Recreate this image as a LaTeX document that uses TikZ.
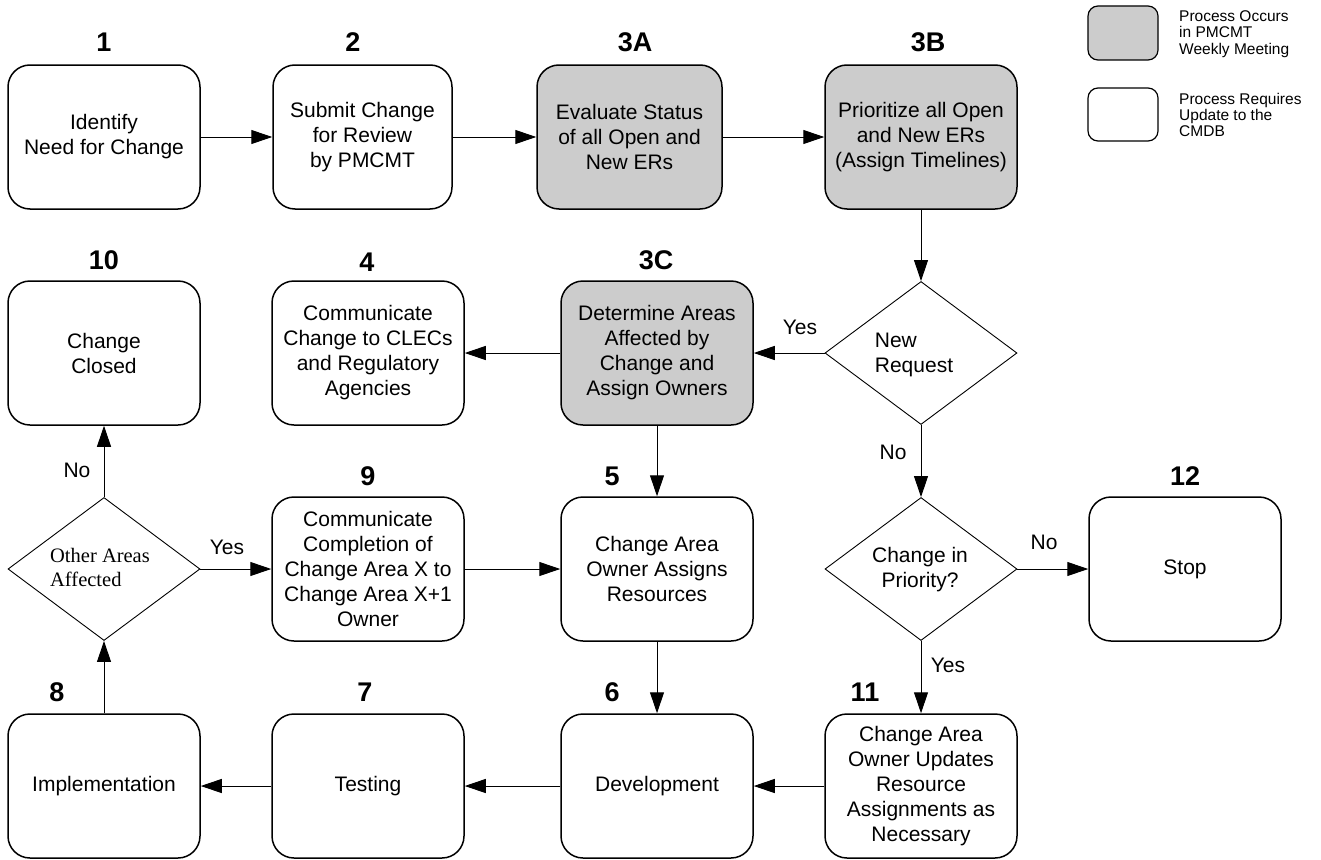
\documentclass[tikz,border=0pt]{standalone}
\usepackage{fontspec}
\setmainfont{Liberation Sans}
\newfontfamily\timesf{Liberation Serif}
\usetikzlibrary{arrows.meta,shapes.geometric}
\definecolor{boxgray}{RGB}{204,204,204}
\begin{document}
\begin{tikzpicture}[x=1pt,y=-1pt,
  proc/.style={draw, line width=1.5pt, rounded corners=22pt, minimum width=192pt,
    minimum height=144pt, align=center, inner sep=0pt,
    font=\fontsize{21}{25}\selectfont},
  grayproc/.style={proc, fill=boxgray},
  dec/.style={draw, line width=0.9pt, diamond, minimum width=192pt,
    minimum height=143pt, inner sep=0pt},
  dectext/.style={align=left, inner sep=0pt, font=\fontsize{21}{25}\selectfont},
  num/.style={font=\fontsize{27}{30}\selectfont\bfseries, inner sep=0pt},
  conn/.style={line width=1pt, -{Triangle[length=21pt,width=14pt]}},
  clab/.style={font=\fontsize{21}{25}\selectfont, inner sep=0pt},
  legbox/.style={draw, line width=1.2pt, rounded corners=10pt, minimum width=70pt,
    minimum height=54pt, inner sep=0pt},
  legtext/.style={align=left, anchor=west, inner sep=0pt,
    font=\fontsize{15.5}{16.3}\selectfont}]
\useasboundingbox (0,0) rectangle (1321,859);

% row 1
\node[proc] (b1) at (104,137) {Identify\\Need for Change};
\node[proc, minimum width=179pt] (b2) at (362.5,137) {Submit Change\\for Review\\by PMCMT};
\node[grayproc, minimum width=185pt] (b3a) at (629.5,137) {Evaluate Status\\of all Open and\\New ERs};
\node[grayproc] (b3b) at (921,137) {Prioritize all Open\\and New ERs\\(Assign Timelines)};

% row 2
\node[proc] (b10) at (104,353) {Change\\Closed};
\node[proc] (b4) at (368,353) {Communicate\\Change to CLECs\\and Regulatory\\Agencies};
\node[grayproc] (b3c) at (657,353) {Determine Areas\\Affected by\\Change and\\Assign Owners};
\node[dec] (nr) at (921,353) {};
\node[dectext] (nrt) at (914,355) {New\\Request};

% row 3
\node[dec] (oa) at (104,569) {};
\node[dectext, font=\fontsize{20.5}{24}\timesf] (oat) at (100,567) {Other Areas\\Affected};
\node[proc] (b9) at (368,569) {Communicate\\Completion of\\Change Area X to\\Change Area X+1\\Owner};
\node[proc] (b5) at (657,569) {Change Area\\Owner Assigns\\Resources};
\node[dec] (cip) at (921,569) {};
\node[dectext, align=center] (cipt) at (920,570) {Change in\\Priority?};
\node[proc] (b12) at (1185,569) {Stop};

% row 4
\node[proc] (b8) at (104,786) {Implementation};
\node[proc] (b7) at (368,786) {Testing};
\node[proc] (b6) at (657,786) {Development};
\node[proc] (b11) at (921,786) {Change Area\\Owner Updates\\Resource\\Assignments as\\Necessary};

% step numbers
\node[num] (n1) at (104,42) {1};
\node[num] (n2) at (353,42) {2};
\node[num] (n3a) at (635,42) {3A};
\node[num] (n3b) at (928,42) {3B};
\node[num] (n10) at (104,260) {10};
\node[num] (n4) at (367,262) {4};
\node[num] (n3c) at (656,260) {3C};
\node[num] (n9) at (368,476) {9};
\node[num] (n5) at (612,476) {5};
\node[num] (n12) at (1185,476) {12};
\node[num] (n8) at (57,692) {8};
\node[num] (n7) at (365,692) {7};
\node[num] (n6) at (612,692) {6};
\node[num] (n11) at (865,692) {11};

% connectors
\draw[conn] (b1) -- (b2);
\draw[conn] (b2) -- (b3a);
\draw[conn] (b3a) -- (b3b);
\draw[conn] (b3b) -- (nr);
\draw[conn] (nr) -- (b3c);
\draw[conn] (b3c) -- (b4);
\draw[conn] (b3c) -- (b5);
\draw[conn] (nr) -- (cip);
\draw[conn] (cip) -- (b12);
\draw[conn] (cip) -- (b11);
\draw[conn] (b11) -- (b6);
\draw[conn] (b5) -- (b6);
\draw[conn] (b6) -- (b7);
\draw[conn] (b7) -- (b8);
\draw[conn] (b8) -- (oa);
\draw[conn] (oa) -- (b10);
\draw[conn] (oa) -- (b9);
\draw[conn] (b9) -- (b5);

% connector labels
\node[clab] (ly1) at (800,327) {Yes};
\node[clab] (ln1) at (893,452) {No};
\node[clab] (ln2) at (1044,542) {No};
\node[clab] (ly2) at (948,665) {Yes};
\node[clab] (ln3) at (77,470) {No};
\node[clab] (ly3) at (227,547) {Yes};

% legend
\node[legbox, fill=boxgray] (lg1) at (1123,33) {};
\node[legtext] (lt1) at (1179,34) {Process Occurs\\in PMCMT\\Weekly Meeting};
\node[legbox, minimum height=53pt] (lg2) at (1123,114.5) {};
\node[legtext] (lt2) at (1179,115) {Process Requires\\Update to the\\CMDB};
\end{tikzpicture}
\end{document}
